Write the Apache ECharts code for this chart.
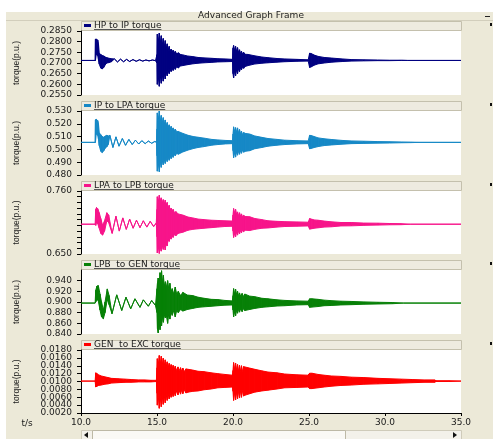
<!DOCTYPE html>
<html>
<head>
<meta charset="utf-8">
<script src="https://cdn.jsdelivr.net/npm/echarts@6/dist/echarts.min.js"></script>
<style>
  html, body { margin: 0; padding: 0; background: #ffffff; }
  #chart { width: 493px; height: 439px; }
</style>
</head>
<body>
<div id="chart"></div>
<script>
// ---- Time axis ----
const timeTicks = [10, 15, 20, 25, 30, 35];

// ---- Y-axis ticks per panel ----
const hpIpTicks  = [0.255, 0.260, 0.265, 0.270, 0.275, 0.280, 0.285];
const ipLpaTicks = [0.480, 0.490, 0.500, 0.510, 0.520, 0.530];
const lpaLpbTicks = [0.650, 0.660, 0.670, 0.680, 0.690, 0.700, 0.710, 0.720, 0.730, 0.740, 0.750, 0.760];
const lpaLpbLabels = [0.650, 0.760];
const lpbGenTicks = [0.840, 0.860, 0.880, 0.900, 0.920, 0.940];
const genExcTicks = [0.002, 0.004, 0.006, 0.008, 0.010, 0.012, 0.014, 0.016, 0.018];
// GEN-EXC labels sit close together, so they are split over two label rows
const genExcLabelsA = [0.002, 0.006, 0.010, 0.014, 0.018];
const genExcLabelsB = [0.004, 0.008, 0.012, 0.016];

// ---- Shaft torque traces: [time s, min p.u., max p.u.] ----
// Where min == max the trace is a single line; otherwise the fast
// torsional oscillation fills the band between the two values.
const hpIpTorque = [
  [10.0, 0.2712, 0.2712], [10.93, 0.2712, 0.2712], [10.95, 0.2712, 0.2812],
  [11.0, 0.2740, 0.2812], [11.1, 0.2735, 0.2808], [11.15, 0.2715, 0.2790],
  [11.2, 0.2695, 0.2745], [11.3, 0.2676, 0.2740], [11.4, 0.2672, 0.2735],
  [11.5, 0.2680, 0.2733], [11.6, 0.2692, 0.2728], [11.7, 0.2700, 0.2725],
  [11.85, 0.2702, 0.2722], [12.0, 0.2706, 0.2720],
  [12.2, 0.2719, 0.2719], [12.4, 0.2705, 0.2705], [12.6, 0.2718, 0.2718],
  [12.8, 0.2706, 0.2706], [13.0, 0.2717, 0.2717], [13.2, 0.2707, 0.2707],
  [13.42, 0.2716, 0.2716], [13.63, 0.2708, 0.2708], [13.85, 0.2715, 0.2715],
  [14.06, 0.2709, 0.2709], [14.27, 0.2714, 0.2714], [14.48, 0.2710, 0.2710],
  [14.7, 0.2714, 0.2714], [14.9, 0.2711, 0.2711],
  [15.0, 0.2700, 0.2740], [15.02, 0.2600, 0.2835], [15.08, 0.2640, 0.2795],
  [15.15, 0.2591, 0.2840], [15.21, 0.2645, 0.2790], [15.28, 0.2605, 0.2828],
  [15.34, 0.2650, 0.2780], [15.41, 0.2615, 0.2815], [15.47, 0.2655, 0.2772],
  [15.54, 0.2625, 0.2805], [15.6, 0.2662, 0.2765], [15.67, 0.2640, 0.2790],
  [15.73, 0.2668, 0.2758], [15.8, 0.2650, 0.2778], [15.86, 0.2672, 0.2752],
  [15.93, 0.2660, 0.2765], [16.0, 0.2677, 0.2748], [16.06, 0.2665, 0.2760],
  [16.13, 0.2680, 0.2745], [16.2, 0.2670, 0.2755], [16.3, 0.2683, 0.2742],
  [16.4, 0.2677, 0.2748], [16.55, 0.2686, 0.2740], [16.7, 0.2688, 0.2738],
  [17.0, 0.2692, 0.2733], [17.35, 0.2696, 0.2730], [17.7, 0.2699, 0.2726],
  [18.1, 0.2701, 0.2724], [18.6, 0.2703, 0.2722], [19.0, 0.2705, 0.2720],
  [19.5, 0.2706, 0.2719], [19.97, 0.2707, 0.2717],
  [20.0, 0.2650, 0.2770], [20.04, 0.2630, 0.2782], [20.1, 0.2662, 0.2760],
  [20.17, 0.2640, 0.2778], [20.23, 0.2668, 0.2755], [20.3, 0.2650, 0.2772],
  [20.36, 0.2673, 0.2750], [20.43, 0.2660, 0.2762], [20.5, 0.2677, 0.2745],
  [20.56, 0.2668, 0.2755], [20.63, 0.2681, 0.2742], [20.7, 0.2675, 0.2750],
  [20.8, 0.2684, 0.2741], [21.0, 0.2688, 0.2740], [21.4, 0.2695, 0.2734],
  [21.9, 0.2699, 0.2728], [22.3, 0.2701, 0.2725], [22.9, 0.2704, 0.2721],
  [23.4, 0.2706, 0.2719], [24.2, 0.2708, 0.2717], [24.95, 0.2709, 0.2715],
  [25.04, 0.2679, 0.2746], [25.15, 0.2682, 0.2744], [25.35, 0.2690, 0.2737],
  [25.6, 0.2696, 0.2731], [26.0, 0.2700, 0.2726], [26.5, 0.2704, 0.2723],
  [27.2, 0.2707, 0.2719], [27.8, 0.2709, 0.2716], [28.6, 0.2710, 0.2715],
  [29.5, 0.2711, 0.2714], [30.3, 0.2711, 0.2713], [31.1, 0.2712, 0.2713],
  [31.5, 0.2712, 0.2712], [35.0, 0.2712, 0.2712]
];

const ipLpaTorque = [
  [10.0, 0.5055, 0.5055], [10.93, 0.5055, 0.5055], [10.95, 0.5055, 0.5231],
  [11.0, 0.5120, 0.5235], [11.1, 0.5110, 0.5225], [11.15, 0.5080, 0.5200],
  [11.2, 0.5030, 0.5130], [11.3, 0.4985, 0.5115], [11.4, 0.4975, 0.5100],
  [11.5, 0.4990, 0.5095], [11.6, 0.5010, 0.5105], [11.7, 0.5020, 0.5110],
  [11.8, 0.5040, 0.5105],
  [11.9, 0.5110, 0.5110], [12.1, 0.5015, 0.5015], [12.3, 0.5098, 0.5098],
  [12.5, 0.5025, 0.5025], [12.72, 0.5085, 0.5085], [12.93, 0.5032, 0.5032],
  [13.15, 0.5078, 0.5078], [13.37, 0.5038, 0.5038], [13.58, 0.5072, 0.5072],
  [13.8, 0.5042, 0.5042], [14.0, 0.5068, 0.5068], [14.22, 0.5045, 0.5045],
  [14.43, 0.5065, 0.5065], [14.65, 0.5048, 0.5048], [14.86, 0.5062, 0.5062],
  [14.97, 0.5055, 0.5055],
  [15.0, 0.4950, 0.5160], [15.02, 0.4830, 0.5285], [15.08, 0.4900, 0.5220],
  [15.15, 0.4826, 0.5300], [15.21, 0.4905, 0.5215], [15.28, 0.4860, 0.5265],
  [15.34, 0.4915, 0.5200], [15.41, 0.4880, 0.5248], [15.47, 0.4925, 0.5190],
  [15.54, 0.4890, 0.5230], [15.6, 0.4935, 0.5175], [15.67, 0.4905, 0.5210],
  [15.73, 0.4945, 0.5165], [15.8, 0.4915, 0.5192], [15.86, 0.4952, 0.5155],
  [15.93, 0.4928, 0.5180], [16.0, 0.4958, 0.5150], [16.06, 0.4938, 0.5168],
  [16.13, 0.4963, 0.5145], [16.2, 0.4950, 0.5158], [16.3, 0.4970, 0.5138],
  [16.4, 0.4962, 0.5140], [16.7, 0.4980, 0.5125],
  [17.05, 0.4995, 0.5110], [17.4, 0.5007, 0.5100], [17.7, 0.5015, 0.5095],
  [18.1, 0.5022, 0.5088], [18.6, 0.5033, 0.5078], [19.0, 0.5038, 0.5074],
  [19.5, 0.5043, 0.5070], [19.97, 0.5045, 0.5068],
  [20.0, 0.4990, 0.5120], [20.04, 0.4935, 0.5176], [20.1, 0.4975, 0.5140],
  [20.17, 0.4940, 0.5170], [20.23, 0.4980, 0.5135], [20.3, 0.4955, 0.5168],
  [20.36, 0.4985, 0.5128], [20.43, 0.4962, 0.5155], [20.5, 0.4990, 0.5122],
  [20.56, 0.4970, 0.5142], [20.63, 0.4995, 0.5115], [20.7, 0.4978, 0.5132],
  [20.8, 0.4985, 0.5125], [21.1, 0.4990, 0.5120],
  [21.43, 0.5005, 0.5105], [21.9, 0.5015, 0.5094],
  [22.3, 0.5025, 0.5085], [22.9, 0.5033, 0.5078], [23.4, 0.5038, 0.5072],
  [24.2, 0.5043, 0.5068], [24.95, 0.5045, 0.5066],
  [25.04, 0.5005, 0.5110], [25.15, 0.5008, 0.5108], [25.35, 0.5015, 0.5100],
  [25.6, 0.5022, 0.5090], [26.0, 0.5030, 0.5083], [26.5, 0.5035, 0.5077],
  [27.2, 0.5041, 0.5070], [27.8, 0.5045, 0.5066], [28.6, 0.5047, 0.5064],
  [29.5, 0.5049, 0.5061], [30.3, 0.5050, 0.5060], [31.1, 0.5052, 0.5058],
  [31.7, 0.5053, 0.5057], [32.3, 0.5055, 0.5055], [35.0, 0.5055, 0.5055]
];

const lpaLpbTorque = [
  [10.0, 0.702, 0.702], [10.93, 0.702, 0.702], [10.97, 0.700, 0.728],
  [11.02, 0.705, 0.7311], [11.1, 0.703, 0.729], [11.2, 0.695, 0.722],
  [11.3, 0.686, 0.712], [11.42, 0.683, 0.700], [11.55, 0.690, 0.708],
  [11.7, 0.708, 0.722], [11.82, 0.705, 0.718],
  [12.05, 0.686, 0.686], [12.3, 0.716, 0.716], [12.52, 0.690, 0.690],
  [12.75, 0.713, 0.713], [12.98, 0.693, 0.693], [13.2, 0.711, 0.711],
  [13.43, 0.695, 0.695], [13.65, 0.709, 0.709], [13.88, 0.696, 0.696],
  [14.1, 0.708, 0.708], [14.33, 0.697, 0.697], [14.55, 0.707, 0.707],
  [14.78, 0.698, 0.698], [14.95, 0.704, 0.704],
  [15.0, 0.680, 0.728], [15.02, 0.652, 0.750], [15.08, 0.664, 0.740],
  [15.15, 0.651, 0.7525], [15.21, 0.662, 0.742], [15.28, 0.655, 0.748],
  [15.34, 0.666, 0.738], [15.41, 0.658, 0.745], [15.47, 0.667, 0.736],
  [15.54, 0.657, 0.744], [15.6, 0.668, 0.735], [15.67, 0.664, 0.740],
  [15.73, 0.675, 0.730], [15.8, 0.672, 0.735], [15.86, 0.679, 0.727],
  [15.93, 0.676, 0.730], [16.0, 0.682, 0.724], [16.06, 0.679, 0.728],
  [16.15, 0.684, 0.722], [16.25, 0.682, 0.724], [16.38, 0.686, 0.720],
  [16.7, 0.688, 0.718],
  [17.04, 0.6915, 0.7145], [17.35, 0.693, 0.713], [17.7, 0.694, 0.711],
  [18.1, 0.695, 0.710], [18.57, 0.696, 0.709], [19.0, 0.697, 0.7085],
  [19.45, 0.698, 0.708], [19.96, 0.6985, 0.7075],
  [20.0, 0.690, 0.718], [20.04, 0.6789, 0.7293], [20.1, 0.686, 0.722],
  [20.17, 0.680, 0.728], [20.23, 0.688, 0.720], [20.3, 0.683, 0.7235],
  [20.36, 0.690, 0.717], [20.43, 0.685, 0.722], [20.5, 0.691, 0.716],
  [20.56, 0.687, 0.720], [20.63, 0.692, 0.715], [20.7, 0.689, 0.7175],
  [20.8, 0.6915, 0.7155], [21.1, 0.691, 0.715],
  [21.43, 0.693, 0.712], [21.9, 0.695, 0.710],
  [22.3, 0.6955, 0.708], [22.9, 0.697, 0.707], [23.4, 0.698, 0.7065],
  [24.2, 0.6985, 0.706], [24.95, 0.699, 0.7055],
  [25.04, 0.6934, 0.7119], [25.15, 0.694, 0.711], [25.35, 0.695, 0.7095],
  [25.59, 0.6957, 0.709], [26.0, 0.697, 0.7075], [26.47, 0.6975, 0.7062],
  [27.1, 0.699, 0.705], [27.79, 0.6992, 0.705], [28.6, 0.700, 0.704],
  [29.54, 0.7005, 0.7038], [30.3, 0.701, 0.7032], [31.07, 0.7012, 0.703],
  [31.7, 0.702, 0.702], [35.0, 0.702, 0.702]
];

const lpbGenTorque = [
  [10.0, 0.898, 0.898], [10.93, 0.898, 0.898], [10.97, 0.900, 0.922],
  [11.05, 0.905, 0.930], [11.14, 0.902, 0.9307], [11.25, 0.885, 0.915],
  [11.35, 0.872, 0.900], [11.47, 0.8687, 0.885], [11.58, 0.880, 0.900],
  [11.73, 0.905, 0.9245], [11.85, 0.895, 0.912],
  [12.04, 0.878, 0.878], [12.35, 0.9134, 0.9134], [12.68, 0.8841, 0.8841],
  [12.96, 0.909, 0.909], [13.27, 0.8873, 0.8873], [13.55, 0.906, 0.906],
  [13.88, 0.890, 0.890], [14.1, 0.904, 0.904], [14.43, 0.8921, 0.8921],
  [14.65, 0.9028, 0.9028], [14.9, 0.8935, 0.8935],
  [15.0, 0.880, 0.925], [15.03, 0.850, 0.935], [15.08, 0.842, 0.945],
  [15.14, 0.862, 0.930], [15.2, 0.848, 0.955], [15.26, 0.866, 0.938],
  [15.3, 0.855, 0.9586], [15.36, 0.872, 0.935], [15.42, 0.862, 0.950],
  [15.48, 0.876, 0.930], [15.55, 0.870, 0.938], [15.62, 0.874, 0.928],
  [15.7, 0.860, 0.940], [15.77, 0.878, 0.925], [15.85, 0.868, 0.935],
  [15.92, 0.882, 0.918], [16.0, 0.875, 0.925], [16.1, 0.884, 0.915],
  [16.2, 0.872, 0.928], [16.3, 0.885, 0.914], [16.4, 0.880, 0.920],
  [16.55, 0.886, 0.912], [16.7, 0.883, 0.918],
  [17.0, 0.886, 0.913], [17.35, 0.888, 0.912],
  [17.7, 0.890, 0.909], [18.1, 0.891, 0.907], [18.57, 0.892, 0.905],
  [19.0, 0.893, 0.9045], [19.45, 0.894, 0.903], [19.96, 0.8945, 0.902],
  [20.0, 0.885, 0.912], [20.04, 0.872, 0.925], [20.1, 0.882, 0.915],
  [20.17, 0.874, 0.924], [20.23, 0.884, 0.914], [20.3, 0.879, 0.920],
  [20.36, 0.886, 0.912], [20.43, 0.881, 0.917], [20.5, 0.887, 0.911],
  [20.6, 0.882, 0.916], [20.7, 0.888, 0.910], [20.77, 0.884, 0.915],
  [21.1, 0.886, 0.911], [21.43, 0.888, 0.910], [21.9, 0.890, 0.907],
  [22.3, 0.891, 0.906], [22.9, 0.8925, 0.904], [23.4, 0.893, 0.903],
  [24.2, 0.8945, 0.902], [24.95, 0.895, 0.9015],
  [25.04, 0.890, 0.906], [25.2, 0.8905, 0.906], [25.59, 0.8915, 0.905],
  [26.0, 0.893, 0.9035], [26.47, 0.8935, 0.9025], [27.1, 0.8945, 0.9015],
  [27.79, 0.895, 0.901], [28.6, 0.8958, 0.9002], [29.54, 0.8963, 0.8995],
  [30.5, 0.8968, 0.899], [31.2, 0.898, 0.898], [35.0, 0.898, 0.898]
];

const genExcTorque = [
  [10.0, 0.0101, 0.0101], [10.93, 0.0101, 0.0101], [10.97, 0.0086, 0.0122],
  [11.05, 0.0088, 0.0120], [11.15, 0.0090, 0.0117], [11.34, 0.0091, 0.0114],
  [11.55, 0.0093, 0.0112], [11.78, 0.0094, 0.0110], [12.0, 0.0096, 0.0108],
  [12.43, 0.0097, 0.0107], [12.9, 0.0098, 0.0106], [13.31, 0.0098, 0.0105],
  [13.8, 0.0099, 0.0104], [14.19, 0.0099, 0.0104], [14.6, 0.0099, 0.0103],
  [14.96, 0.0100, 0.0103],
  [15.0, 0.0070, 0.0135], [15.02, 0.0040, 0.0158], [15.08, 0.0065, 0.0140],
  [15.15, 0.0032, 0.0166], [15.21, 0.0062, 0.0142], [15.28, 0.0036, 0.0164],
  [15.34, 0.0064, 0.0140], [15.41, 0.0042, 0.0159], [15.47, 0.0066, 0.0138],
  [15.54, 0.0046, 0.0155], [15.6, 0.0068, 0.0136], [15.67, 0.0052, 0.0150],
  [15.73, 0.0070, 0.0134], [15.8, 0.0056, 0.0146], [15.86, 0.0072, 0.0132],
  [15.93, 0.0060, 0.0143], [16.0, 0.0073, 0.0131], [16.06, 0.0062, 0.0141],
  [16.13, 0.0074, 0.0130], [16.2, 0.0064, 0.0139], [16.27, 0.0076, 0.0128],
  [16.38, 0.0066, 0.0137], [16.45, 0.0077, 0.0127], [16.55, 0.0068, 0.0135],
  [16.62, 0.0078, 0.0126], [16.7, 0.0069, 0.0134], [16.8, 0.0079, 0.0125],
  [16.9, 0.0071, 0.0132], [17.04, 0.0073, 0.0131],
  [17.35, 0.0075, 0.0129], [17.7, 0.0076, 0.0126], [18.1, 0.0079, 0.0125],
  [18.57, 0.0081, 0.0122], [19.0, 0.0084, 0.0120], [19.45, 0.0085, 0.0118],
  [19.96, 0.0086, 0.0116],
  [20.0, 0.0075, 0.0128], [20.04, 0.0052, 0.0148], [20.1, 0.0072, 0.0130],
  [20.17, 0.0053, 0.0147], [20.23, 0.0073, 0.0129], [20.3, 0.0056, 0.0143],
  [20.36, 0.0075, 0.0127], [20.43, 0.0058, 0.0141], [20.5, 0.0076, 0.0126],
  [20.56, 0.0060, 0.0140], [20.63, 0.0077, 0.0125], [20.7, 0.0063, 0.0138],
  [20.77, 0.0065, 0.0137],
  [21.1, 0.0069, 0.0134], [21.43, 0.0073, 0.0131], [21.9, 0.0076, 0.0127],
  [22.3, 0.0078, 0.0124], [22.9, 0.0081, 0.0122], [23.4, 0.0084, 0.0119],
  [24.2, 0.0085, 0.0117], [24.93, 0.0086, 0.0116],
  [25.04, 0.0082, 0.0121], [25.2, 0.0082, 0.0121], [25.59, 0.0084, 0.0118],
  [26.0, 0.0086, 0.0116], [26.47, 0.0088, 0.0114], [27.1, 0.0090, 0.0113],
  [27.79, 0.0091, 0.0111], [28.6, 0.0093, 0.0110], [29.54, 0.0094, 0.0108],
  [30.3, 0.0095, 0.0107], [31.07, 0.0096, 0.0106], [31.8, 0.0097, 0.0105],
  [32.6, 0.0098, 0.0104], [33.27, 0.0098, 0.0104], [33.35, 0.0100, 0.0102],
  [34.2, 0.0100, 0.0102], [35.0, 0.0101, 0.0101]
];

// ---- Panel definitions ----
const panels = [
  { name: 'HP to IP torque',    rows: hpIpTorque,   min: 0.255, max: 0.285, ticks: hpIpTicks,   labels: hpIpTicks,     digits: 4, color: '#000080' },
  { name: 'IP to LPA torque',   rows: ipLpaTorque,  min: 0.480, max: 0.530, ticks: ipLpaTicks,  labels: ipLpaTicks,    digits: 3, color: '#1688C6' },
  { name: 'LPA to LPB torque',  rows: lpaLpbTorque, min: 0.650, max: 0.760, ticks: lpaLpbTicks, labels: lpaLpbLabels,  digits: 3, color: '#F7148A' },
  { name: 'LPB  to GEN torque', rows: lpbGenTorque, min: 0.840, max: 0.960, ticks: lpbGenTicks, labels: lpbGenTicks,   digits: 3, color: '#078007' },
  { name: 'GEN  to EXC torque', rows: genExcTorque, min: 0.002, max: 0.018, ticks: genExcTicks, labels: genExcLabelsA, digits: 4, color: '#FF0000',
    extraLabels: genExcLabelsB }
];

// Plot-area layout (pixels)
const plotLeft = 81, plotRight = 461;
const plotTops = [31, 111, 191, 270, 350];
const plotHeights = [64, 64, 63, 64, 63];

const FONT = 'DejaVu Sans, Verdana, sans-serif';
const FRAME = '#ECE9D8';

const chart = echarts.init(document.getElementById('chart'), null, { renderer: 'canvas' });

const grids = panels.map((p, i) => ({
  left: plotLeft, right: 493 - plotRight, top: plotTops[i], height: plotHeights[i],
  show: true, backgroundColor: '#ffffff', borderWidth: 0, containLabel: false
}));

const xAxes = panels.map((p, i) => ({
  type: 'value', gridIndex: i, min: 10, max: 35, interval: 5,
  show: i === panels.length - 1,
  axisLine: { show: true, onZero: false, lineStyle: { color: '#000', width: 1 } },
  axisTick: { show: true, length: 3, customValues: timeTicks, lineStyle: { color: '#000' } },
  axisLabel: {
    customValues: timeTicks, showMinLabel: true, showMaxLabel: true,
    margin: 5, fontSize: 9, fontFamily: FONT, color: '#1a1a1a',
    formatter: v => v.toFixed(1)
  },
  splitLine: { show: false }
}));

const labelStyle = (p, values) => ({
  customValues: values, showMinLabel: true, showMaxLabel: true, hideOverlap: false,
  margin: 9, fontSize: 9, fontFamily: FONT, color: '#1a1a1a',
  formatter: v => v.toFixed(p.digits)
});

const yAxes = panels.map((p, i) => ({
  type: 'value', gridIndex: i, min: p.min, max: p.max,
  name: 'torque(p.u.)', nameLocation: 'middle', nameRotate: 90, nameGap: 60,
  nameTextStyle: { fontSize: 8.5, fontFamily: 'Liberation Sans, Arial, sans-serif', color: '#1a1a1a' },
  axisLine: { show: true, onZero: false, lineStyle: { color: '#000', width: 1 } },
  axisTick: { show: true, length: 4, customValues: p.ticks, lineStyle: { color: '#000' } },
  axisLabel: labelStyle(p, p.labels),
  splitLine: { show: false }
}));

// Second label row for panels whose tick labels are densely packed
panels.forEach((p, i) => {
  if (!p.extraLabels) return;
  yAxes.push({
    type: 'value', gridIndex: i, min: p.min, max: p.max, position: 'left', offset: 0,
    axisLine: { show: false }, axisTick: { show: false }, splitLine: { show: false },
    axisLabel: labelStyle(p, p.extraLabels)
  });
});

// Each trace is drawn as a band between its min and max values; the band
// collapses to a plain line wherever the two are equal.
const series = panels.map((p, i) => ({
  type: 'custom', name: p.name, xAxisIndex: i, yAxisIndex: i,
  data: p.rows, encode: { x: 0, y: [1, 2] },
  silent: true, animation: false, clip: true,
  renderItem: (params, api) => {
    const k = params.dataIndexInside;
    if (k >= params.dataInsideLength - 1) return null;
    const t0 = api.value(0, k), t1 = api.value(0, k + 1);
    const a = api.coord([t0, api.value(1, k)]);
    const b = api.coord([t0, api.value(2, k)]);
    const c = api.coord([t1, api.value(2, k + 1)]);
    const d = api.coord([t1, api.value(1, k + 1)]);
    return {
      type: 'polygon',
      shape: { points: [a, b, c, d] },
      style: { fill: p.color, stroke: p.color, lineWidth: 1, lineJoin: 'round' }
    };
  }
}));

// Text measuring for the underlined legend captions
const measureCtx = document.createElement('canvas').getContext('2d');
measureCtx.font = '9px ' + FONT;

const graphics = [
  { type: 'rect', shape: { x: 0, y: 0, width: 493, height: 12 }, style: { fill: '#ffffff' }, silent: true },
  { type: 'rect', shape: { x: 0, y: 0, width: 6, height: 439 }, style: { fill: '#ffffff' }, silent: true },
  { type: 'line', shape: { x1: 6, y1: 20.5, x2: 493, y2: 20.5 }, style: { stroke: '#D2CEBC', lineWidth: 1 }, silent: true },
  { type: 'text', x: 251, y: 16, style: { text: 'Advanced Graph Frame', font: '9px ' + FONT, fill: '#1a1a1a', align: 'center', verticalAlign: 'middle' }, silent: true },
  { type: 'line', shape: { x1: 485, y1: 16.5, x2: 490, y2: 16.5 }, style: { stroke: '#222', lineWidth: 1 }, silent: true },
  { type: 'text', x: 27, y: 424, style: { text: 't/s', font: '9px ' + FONT, fill: '#1a1a1a', align: 'center', verticalAlign: 'middle' }, silent: true }
];

panels.forEach((p, i) => {
  const barTop = plotTops[i] - 10;
  const w = measureCtx.measureText(p.name).width;
  graphics.push(
    { type: 'rect', shape: { x: plotLeft + 0.5, y: barTop + 0.5, width: plotRight - plotLeft, height: 9 },
      style: { fill: '#EEEBE0', stroke: '#C4C0AD', lineWidth: 1 }, silent: true },
    { type: 'rect', shape: { x: 84, y: barTop + 3, width: 7, height: 3 }, style: { fill: p.color }, silent: true },
    { type: 'text', x: 94, y: barTop + 4.5,
      style: { text: p.name, font: '9px ' + FONT, fill: '#1a1a1a', align: 'left', verticalAlign: 'middle' }, silent: true },
    { type: 'line', shape: { x1: 94, y1: barTop + 8.5, x2: 94 + w, y2: barTop + 8.5 }, style: { stroke: '#555', lineWidth: 1 }, silent: true },
    { type: 'rect', shape: { x: 490, y: barTop + 2, width: 2, height: 3 }, style: { fill: '#111' }, silent: true }
  );
});

// Horizontal scroll bar under the time axis
graphics.push(
  { type: 'rect', shape: { x: 81.5, y: 430.5, width: 380, height: 9 }, style: { fill: '#F3F1EA', stroke: '#CFCBBA', lineWidth: 1 }, silent: true },
  { type: 'rect', shape: { x: 92.5, y: 430.5, width: 253, height: 9 }, style: { fill: '#FAF9F5', stroke: '#BDB9A6', lineWidth: 1 }, silent: true },
  { type: 'polygon', shape: { points: [[84, 435], [88, 432], [88, 438]] }, style: { fill: '#111' }, silent: true },
  { type: 'polygon', shape: { points: [[457, 435], [453, 432], [453, 438]] }, style: { fill: '#111' }, silent: true }
);

chart.setOption({
  backgroundColor: FRAME,
  animation: false,
  grid: grids,
  xAxis: xAxes,
  yAxis: yAxes,
  series: series,
  graphic: { elements: graphics }
});
</script>
</body>
</html>
